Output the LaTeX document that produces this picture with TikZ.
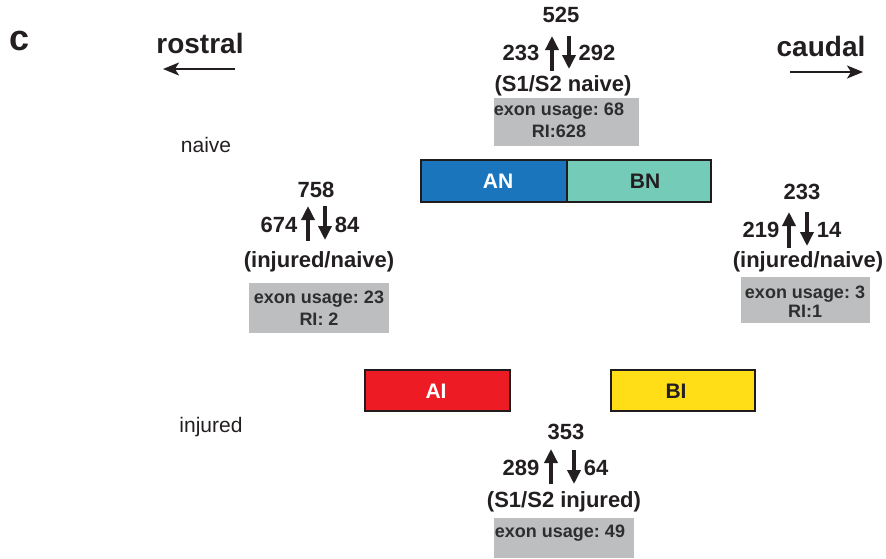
\documentclass[tikz,border=0pt]{standalone}
\usepackage{fontspec}
\setmainfont{Liberation Sans}
\usetikzlibrary{arrows.meta}
\frenchspacing
\definecolor{txt}{HTML}{231F20}
\definecolor{boxtxt}{HTML}{2E2E2E}
\definecolor{grayfill}{HTML}{BCBEC0}
\definecolor{anblue}{HTML}{1B75BC}
\definecolor{bnteal}{HTML}{74CBB8}
\definecolor{aired}{HTML}{ED1C24}
\definecolor{biyellow}{HTML}{FFDE17}
\tikzset{
  num/.style={font=\fontsize{22}{26}\selectfont\bfseries, text=txt, anchor=base, inner sep=0pt},
  bigl/.style={font=\fontsize{28}{32}\selectfont\bfseries, text=txt, anchor=base, inner sep=0pt},
  plain/.style={font=\fontsize{21}{24}\selectfont, text=txt, anchor=base, inner sep=0pt},
  glabel/.style={font=\fontsize{18}{20}\selectfont\bfseries, text=boxtxt, anchor=base, inner sep=0pt},
  gbox/.style={fill=grayfill, draw=none},
  seg/.style={draw=txt!90!black, line width=1.8pt},
  seglabel/.style={font=\fontsize{21}{24}\selectfont\bfseries, anchor=base, inner sep=0pt},
  updown/.style={draw=txt, line width=3.4pt, -{Triangle[length=14pt,width=13pt]}},
  dirarrow/.style={draw=txt, line width=1.8pt, -{Stealth[length=16pt,width=13pt,inset=4pt]}},
}
\begin{document}
\begin{tikzpicture}[x=1pt,y=-1pt]
\useasboundingbox (0,0) rectangle (886,558);

% panel label and directions
\node[font=\fontsize{36}{40}\selectfont\bfseries, text=txt, anchor=base, inner sep=0pt] (c) at (20,50) {c};
\node[bigl] (rostral) at (200,53) {rostral};
\coordinate (rs) at (235,69); \coordinate (re) at (163,69);
\draw[dirarrow] (rs) -- (re);
\node[bigl] (caudal) at (821,56) {caudal};
\coordinate (cs) at (790,72); \coordinate (ce) at (863,72);
\draw[dirarrow] (cs) -- (ce);

\node[plain] (naive) at (206,152) {naive};
\node[plain] (injured) at (211,432) {injured};

% segments
\path[seg, fill=anblue] (421,160) rectangle (567,202);
\path[seg, fill=bnteal] (567,160) rectangle (711,202);
\node[seglabel, text=white] (AN) at (498,188) {AN};
\node[seglabel, text=txt] (BN) at (645,188) {BN};
\path[seg, fill=aired] (365,370) rectangle (510,411);
\path[seg, fill=biyellow] (611,370) rectangle (755,411);
\node[seglabel, text=white] (AI) at (436,398) {AI};
\node[seglabel, text=txt] (BI) at (676,398) {BI};

% top group (S1/S2 naive)
\node[num] (t525) at (561,22) {525};
\node[num] (t233) at (521,60) {233};
\node[num] (t292) at (597,60) {292};
\coordinate (tu1) at (552,71); \coordinate (tu2) at (552,36);
\coordinate (td1) at (569,36); \coordinate (td2) at (569,69);
\draw[updown] (tu1) -- (tu2);
\draw[updown] (td1) -- (td2);
\node[num] (tlab) at (563,91) {(S1/S2 naive)};
\path[gbox] (494,98) rectangle (639,146);
\node[glabel] (tex) at (559,115) {exon usage: 68};
\node[glabel] (tri) at (559,137) {RI:628};

% left group
\node[num] (l758) at (316,197) {758};
\node[num] (l674) at (279,232) {674};
\node[num] (l84) at (347,232) {84};
\coordinate (lu1) at (308,241); \coordinate (lu2) at (308,206);
\coordinate (ld1) at (325,206); \coordinate (ld2) at (325,240);
\draw[updown] (lu1) -- (lu2);
\draw[updown] (ld1) -- (ld2);
\node[num] (llab) at (319,267) {(injured/naive)};
\path[gbox] (249,283) rectangle (389,333);
\node[glabel] (lex) at (319,303) {exon usage: 23};
\node[glabel] (lri) at (319,325) {RI: 2};

% right group
\node[num] (r233) at (802,199) {233};
\node[num] (r219) at (761,237) {219};
\node[num] (r14) at (829,237) {14};
\coordinate (ru1) at (789,248); \coordinate (ru2) at (789,212);
\coordinate (rd1) at (807,212); \coordinate (rd2) at (807,246);
\draw[updown] (ru1) -- (ru2);
\draw[updown] (rd1) -- (rd2);
\node[num] (rlab) at (808,267) {(injured/naive)};
\path[gbox] (741,277) rectangle (870,323);
\node[glabel] (rex) at (805,298) {exon usage: 3};
\node[glabel] (rri) at (805,317) {RI:1};

% bottom group (S1/S2 injured)
\node[num] (b353) at (566,439) {353};
\node[num] (b289) at (521,475) {289};
\node[num] (b64) at (596,475) {64};
\coordinate (bu1) at (551,484); \coordinate (bu2) at (551,449);
\coordinate (bd1) at (574,450); \coordinate (bd2) at (574,484);
\draw[updown] (bu1) -- (bu2);
\draw[updown] (bd1) -- (bd2);
\node[num] (blab) at (564,507) {(S1/S2 injured)};
\path[gbox] (494,518) rectangle (634,558);
\node[glabel] (bex) at (560,537) {exon usage: 49};
\end{tikzpicture}
\end{document}
